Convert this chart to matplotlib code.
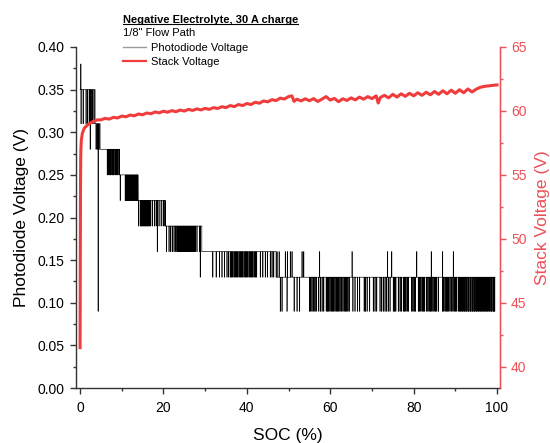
import numpy as np
import matplotlib
matplotlib.use('Agg')
import matplotlib.pyplot as plt
from matplotlib.lines import Line2D
from matplotlib.ticker import MultipleLocator

plt.rcParams['font.family'] = ['Liberation Sans', 'DejaVu Sans']

# ---- photodiode voltage: staircase of base levels with fast dips ----
pd_base_soc = [0.0, 3.6, 4.8, 9.5, 13.9, 20.5, 29.2, 47.0]
pd_base_v = [0.35, 0.31, 0.28, 0.25, 0.22, 0.19, 0.16, 0.13]
pd_dip_v = [0.31, 0.28, 0.25, 0.22, 0.19, 0.16, 0.13, 0.09]
pd_end = 99.5

dips_a = [0.2, 0.7, 1.4, 1.8, 2.2, 2.6, 2.9, 3.3]
dips_b = [3.8, 4.1, 4.5]
dips_c = [6.5, 6.8, 7.0, 7.2, 7.4, 7.7, 7.9, 8.1, 8.4, 8.7, 9.0, 9.3]
dips_d = [9.6, 10.8, 11.0, 11.2, 11.4, 11.6, 11.8, 12.0, 12.2, 12.4, 12.6,
          12.8, 13.0, 13.2, 13.4, 13.6, 13.8]
dips_e = [14.0, 14.4, 14.6, 14.8, 15.0, 15.2, 15.4, 15.6, 15.8, 16.0, 16.2,
          16.4, 16.6, 16.9, 17.3, 17.8, 18.2, 18.9, 19.4, 19.9, 20.3]
dips_f = [20.7, 21.3, 21.7, 22.1, 22.5, 22.9, 23.2, 23.4, 23.6, 23.8, 24.0,
          24.2, 24.4, 24.6, 24.8, 25.0, 25.2, 25.4, 25.6, 25.8, 26.0, 26.2,
          26.4, 26.6, 26.8, 27.0, 27.2, 27.4, 27.6, 28.0, 28.6]
dips_g = [31.8, 32.6, 33.4, 34.0, 34.6, 35.2, 35.6, 36.0, 36.3, 36.6, 36.9,
          37.2, 37.5, 37.8, 38.1, 38.4, 38.7, 39.0, 39.3, 39.6, 39.9, 40.2,
          40.5, 40.8, 41.1, 41.4, 41.7, 42.0, 42.3, 43.2, 43.8, 44.4, 44.9,
          45.6, 46.0, 46.4]
dips_h = [48.0, 48.4, 49.6, 51.3, 52.0, 52.6, 55.0, 55.3, 55.6, 56.0, 56.3,
          56.6, 57.2, 57.6, 58.0, 58.4, 59.0, 59.3, 59.6, 59.9, 60.2, 60.5,
          60.8, 61.1, 61.4, 61.7, 62.0, 62.3, 62.6, 63.0, 63.3, 63.6, 63.9,
          64.2, 64.5, 65.4, 65.9, 66.5, 67.0, 68.1, 68.4, 68.8, 69.4, 70.3,
          70.7, 71.1, 71.9, 72.3, 72.7, 73.1, 73.5, 73.9, 74.3, 75.1, 75.4,
          75.7, 76.3, 76.7, 77.0, 77.5, 77.8, 78.1, 78.4, 78.7, 79.5, 79.8,
          80.1, 80.4, 81.1, 81.4, 81.7, 82.0, 82.3, 82.6, 83.1, 83.4, 83.7,
          84.0, 84.3, 84.6, 84.9, 85.2, 85.5, 85.9, 86.9, 87.2, 87.5, 87.8,
          88.1, 88.4, 88.7, 89.1, 89.4, 89.7, 90.0, 90.3, 90.7, 91.0, 91.2,
          91.5, 91.7, 92.0, 92.2, 92.5, 92.7, 93.0, 93.2, 93.5, 93.7, 94.0,
          94.2, 94.5, 94.7, 95.0, 95.2, 95.5, 95.7, 96.0, 96.2, 96.5, 96.7,
          97.0, 97.2, 97.5, 97.7, 98.0, 98.2, 98.5, 98.7, 99.0, 99.2, 99.4]
pd_dips = [dips_a, dips_b, dips_c, dips_d, dips_e, dips_f, dips_g, dips_h]

# single excursions away from the band
pd_spike_soc = [0.15, 2.4, 4.3, 18.5, 28.8, 47.2, 47.7, 49.2, 49.7, 50.4, 50.8,
                53.2, 53.6, 57.4, 65.2, 73.7, 74.7, 80.7, 84.2, 86.9, 89.5]
pd_spike_v = [0.38, 0.28, 0.09, 0.16, 0.13, 0.16, 0.16, 0.16, 0.16, 0.16, 0.16,
              0.16, 0.16, 0.16, 0.16, 0.16, 0.16, 0.16, 0.16, 0.16, 0.16]

# ---- stack voltage ----
sv_soc = [0.0, 0.05, 0.1, 0.15, 0.2, 0.3, 0.55, 1.0, 1.75, 2.95, 4.15,
          5, 6, 7, 8, 9, 10, 11, 12, 13, 14, 15, 16, 17, 18, 19, 20,
          21, 22, 23, 24, 25, 26, 27, 28, 29, 30, 31, 32, 33, 34, 35,
          36, 37, 38, 39, 40, 41, 42, 43, 44, 45, 46, 47, 48, 49, 50,
          50.8, 51.3, 52, 53, 54, 55, 56, 57, 58, 59, 60, 61, 62, 63, 64,
          65, 66, 67, 68, 69, 70, 71, 71.5, 72, 73, 74, 75, 76, 77, 78,
          79, 80, 81, 82, 83, 84, 85, 86, 87, 88, 89, 90, 91, 92, 93, 94,
          95, 96, 97, 98, 99, 99.5, 100]
sv_v = [41.5, 48.0, 54.0, 56.2, 57.0, 57.7, 58.25, 58.65, 58.9, 59.15, 59.3,
        59.30, 59.42, 59.36, 59.50, 59.45, 59.60, 59.54, 59.68, 59.62, 59.76,
        59.70, 59.84, 59.78, 59.92, 59.85, 59.98, 59.90, 60.02, 59.94, 60.07,
        59.99, 60.12, 60.04, 60.16, 60.08, 60.20, 60.12, 60.26, 60.19, 60.33,
        60.26, 60.42, 60.34, 60.50, 60.42, 60.58, 60.50, 60.68, 60.60, 60.78,
        60.71, 60.88, 60.81, 61.00, 60.93, 61.12,
        61.18, 60.75, 60.92, 60.78, 60.95, 60.80, 60.96, 60.74, 60.92, 61.12,
        60.85, 60.98, 60.72, 60.95, 60.82, 61.02, 60.86, 61.08, 60.92, 61.12,
        60.96, 61.18, 60.62, 61.05, 61.22, 61.02, 61.30, 61.08, 61.34, 61.14,
        61.38, 61.18, 61.42, 61.22, 61.46, 61.26, 61.52, 61.30, 61.58, 61.34,
        61.62, 61.38, 61.66, 61.42, 61.72, 61.48, 61.70, 61.85, 61.92, 61.96,
        62.00, 62.02, 62.03]


def base_at(s):
    i = np.searchsorted(pd_base_soc, s, side='right') - 1
    return pd_base_v[i]


# build the step trace
dip_w = 0.08
events = []
for k in range(len(pd_dips)):
    for s in pd_dips[k]:
        events.append((s, pd_dip_v[k]))
for s, v in zip(pd_spike_soc, pd_spike_v):
    events.append((s, v))
items = [(e, None) for e in pd_base_soc[1:]] + events
items.sort(key=lambda t: t[0])

pd_x = [0.0]
pd_y = [pd_base_v[0]]
for s, v in items:
    if v is None:
        pd_x += [s, s]
        pd_y += [base_at(s - 1e-6), base_at(s)]
    else:
        b = base_at(s)
        pd_x += [s, s, s + dip_w, s + dip_w]
        pd_y += [b, v, v, b]
pd_x.append(pd_end)
pd_y.append(base_at(pd_end))

red = '#f03c3c'
red_axis = '#ec4f55'

fig = plt.figure(figsize=(5.5, 4.43), dpi=100)
ax = fig.add_axes([0.138, 0.124, 0.771, 0.770])
l1, = ax.plot(pd_x, pd_y, color='black', lw=0.45, label='Photodiode Voltage')
ax.set_xlim(-1, 100.7)
ax.set_ylim(0, 0.40)
ax.xaxis.set_major_locator(MultipleLocator(20))
ax.xaxis.set_minor_locator(MultipleLocator(10))
ax.yaxis.set_major_locator(MultipleLocator(0.05))
ax.yaxis.set_minor_locator(MultipleLocator(0.025))
ax.yaxis.set_major_formatter(plt.FormatStrFormatter('%.2f'))
ax.set_xlabel('SOC (%)', fontsize=12.5, labelpad=9)
ax.set_ylabel('Photodiode Voltage (V)', fontsize=12.5, labelpad=6)
ax.tick_params(which='both', direction='out', labelsize=10, color='#333333')
ax.tick_params(axis='x', pad=5)
ax.tick_params(which='major', length=4.5, width=1)
ax.tick_params(which='minor', length=2.5, width=1)
ax.spines['top'].set_visible(False)
for sp in ['left', 'bottom']:
    ax.spines[sp].set_color('#333333')
    ax.spines[sp].set_linewidth(1)

ax2 = ax.twinx()
l2, = ax2.plot(sv_soc, sv_v, color=red, lw=2.2, label='Stack Voltage')
ax2.set_ylim(38.34, 65)
ax2.yaxis.set_major_locator(MultipleLocator(5))
ax2.yaxis.set_minor_locator(MultipleLocator(2.5))
ax2.set_ylabel('Stack Voltage (V)', fontsize=12.5, color=red_axis, labelpad=6)
ax2.tick_params(which='both', direction='out', labelsize=10, color=red_axis,
                labelcolor=red_axis)
ax2.tick_params(which='major', length=4.5, width=1)
ax2.tick_params(which='minor', length=2.5, width=1)
ax2.spines['top'].set_visible(False)
ax2.spines['left'].set_visible(False)
ax2.spines['bottom'].set_visible(False)
ax2.spines['right'].set_color(red_axis)
ax2.spines['right'].set_linewidth(1)

title = fig.text(122.7 / 550, 1 - 20 / 443, 'Negative Electrolyte, 30 A charge',
                 fontsize=8, fontweight='bold', va='center', ha='left')
fig.text(122.7 / 550, 1 - 33.3 / 443, '1/8" Flow Path', fontsize=8,
         va='center', ha='left')
leg = ax2.legend(handles=[l1, l2], loc='upper left',
                 bbox_to_anchor=(122.7 / 550, 1 - 43 / 443),
                 bbox_transform=fig.transFigure, frameon=False, fontsize=8,
                 handlelength=2.1, handletextpad=0.45, borderpad=0,
                 borderaxespad=0, labelspacing=0.38)
leg.legend_handles[0].set_color('#9a9a9a')
leg.legend_handles[0].set_linewidth(1.0)
leg.legend_handles[1].set_linewidth(1.6)

# underline the heading
fig.canvas.draw()
bb = title.get_window_extent().transformed(fig.transFigure.inverted())
fig.add_artist(Line2D([bb.x0, bb.x1], [bb.y0 + 0.002, bb.y0 + 0.002],
                      transform=fig.transFigure, color='black', lw=0.8))

fig.savefig('out.png', dpi=100)
